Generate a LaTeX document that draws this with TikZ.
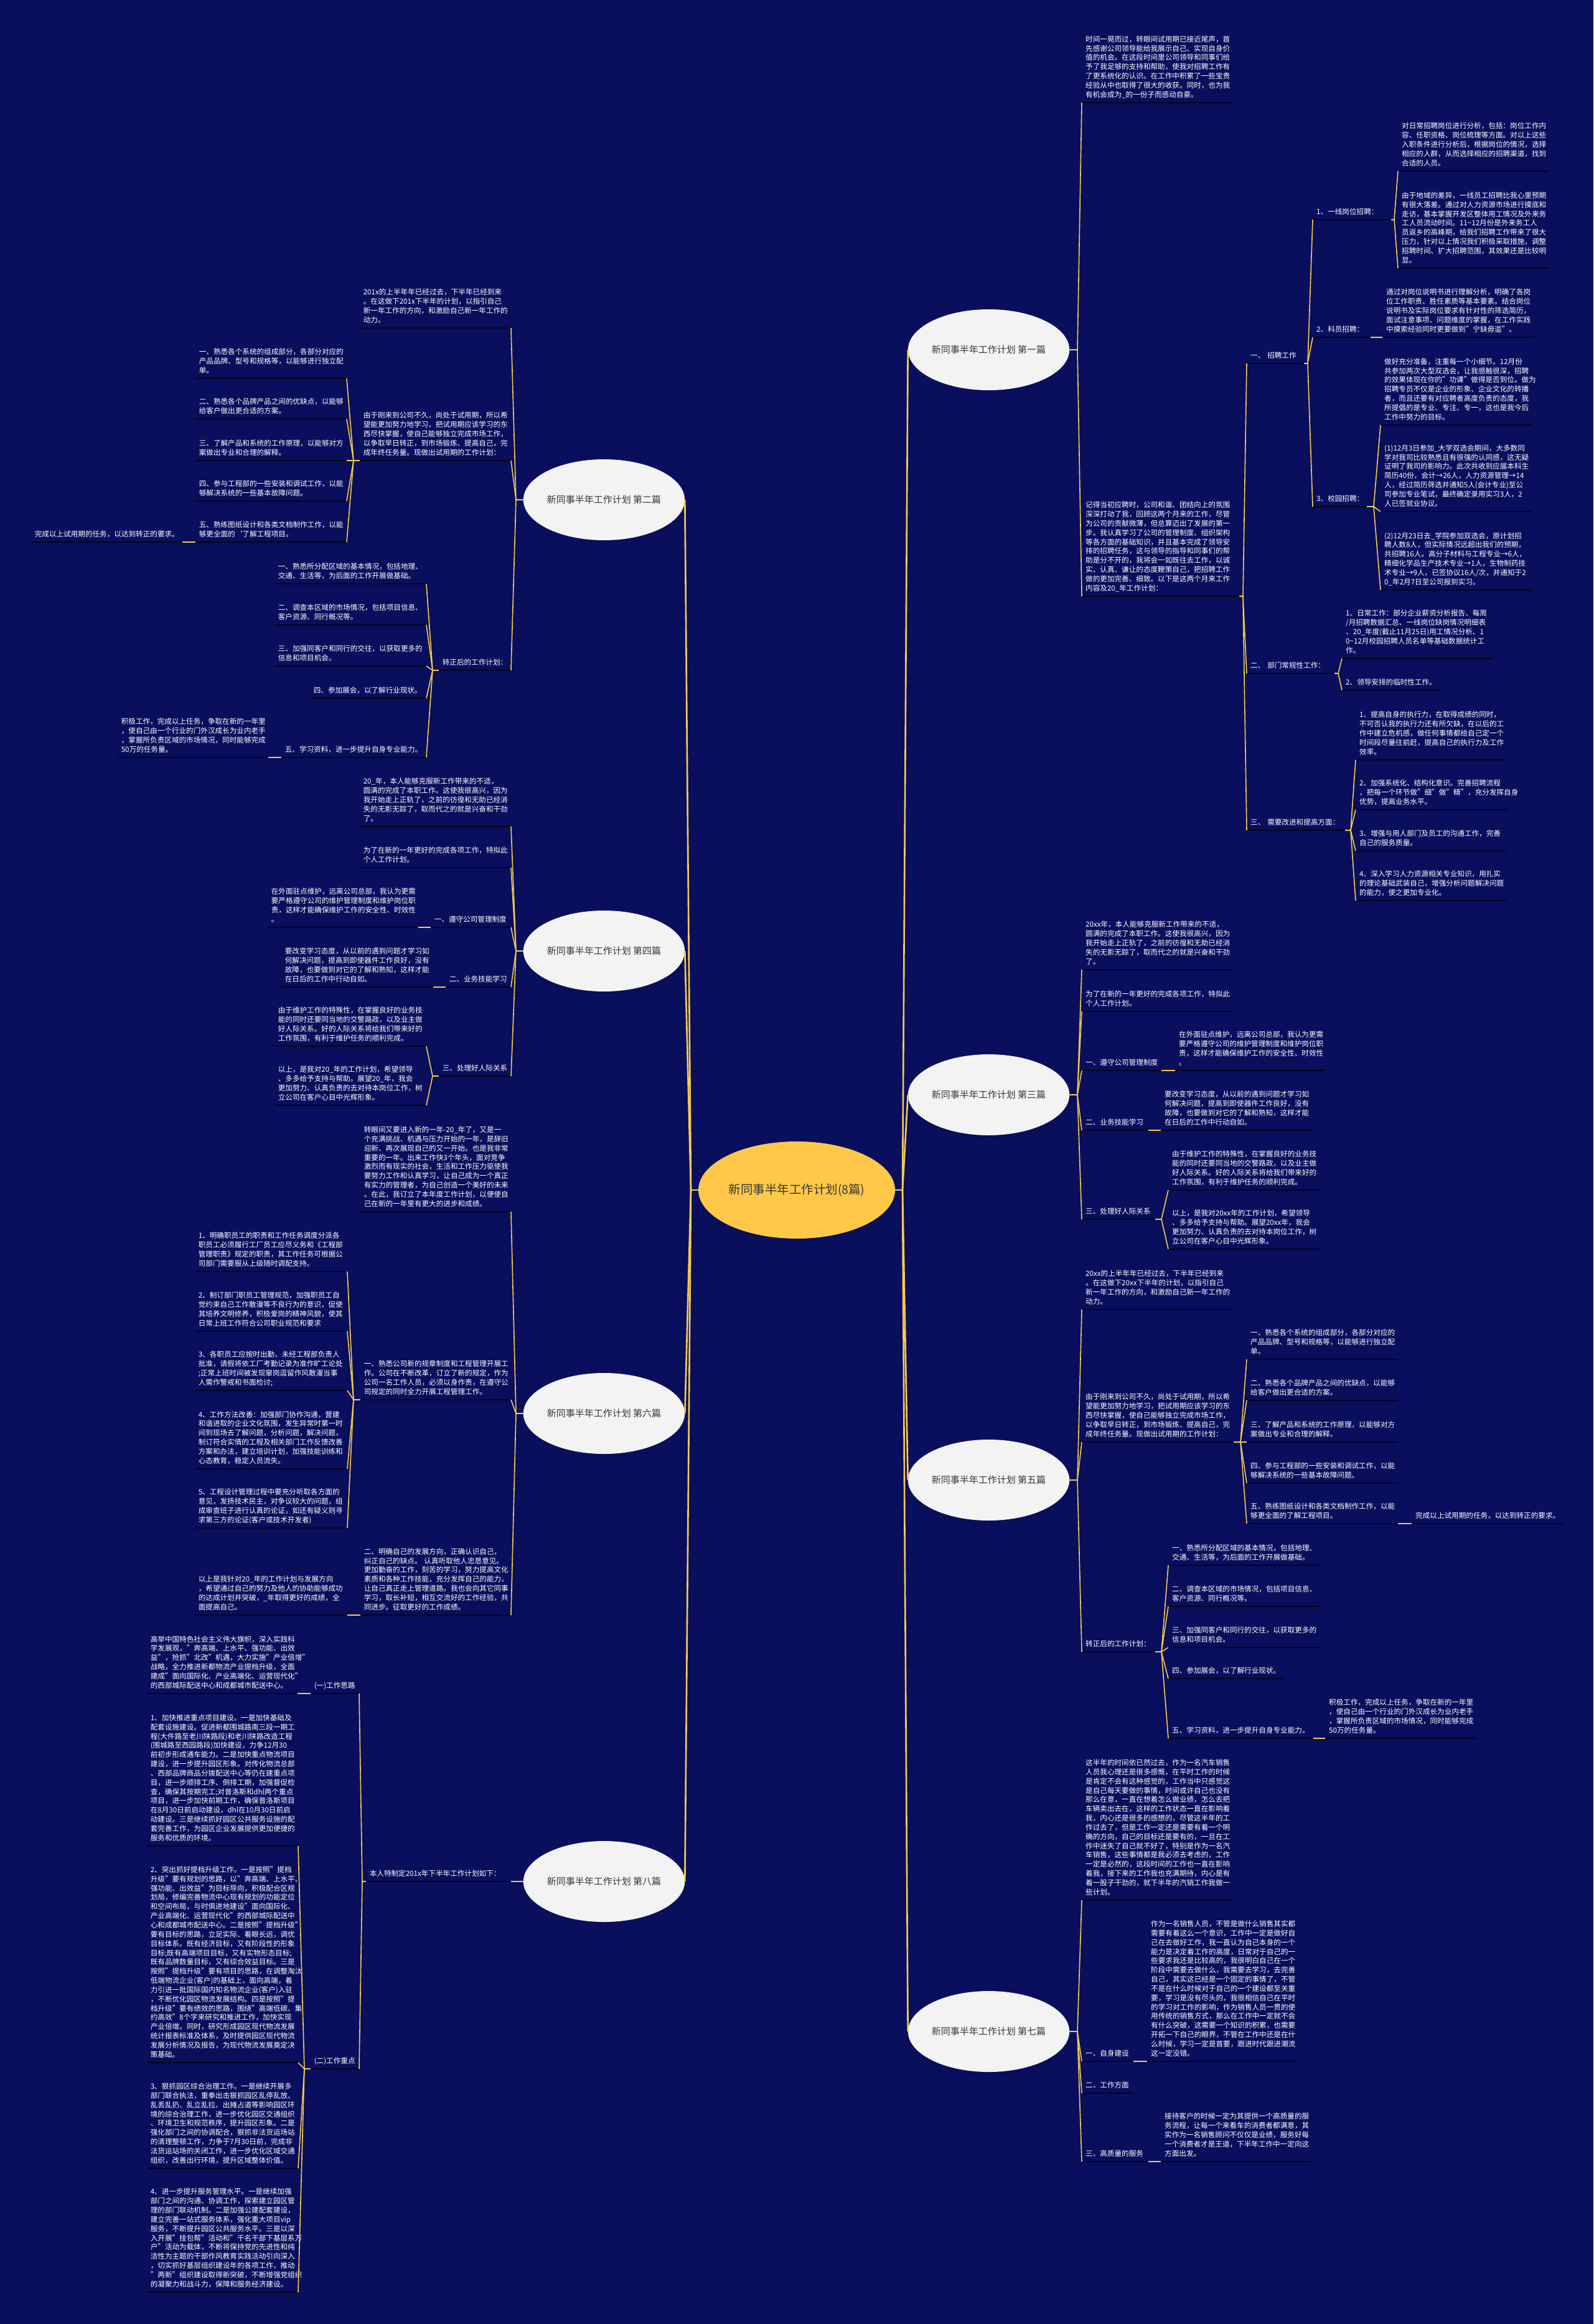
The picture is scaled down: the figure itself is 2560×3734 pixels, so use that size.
\documentclass[tikz,border=0pt]{standalone}
\usepackage{fontspec}
\setmainfont{Noto Sans CJK SC}
\usetikzlibrary{shapes.geometric}
\definecolor{bg}{RGB}{9,15,92}
\definecolor{linec}{RGB}{247,203,80}
\definecolor{ulc}{RGB}{4,5,28}
\definecolor{centerc}{RGB}{255,200,72}
\definecolor{brc}{RGB}{243,243,243}
\definecolor{brt}{RGB}{55,55,55}
\newcommand\fs{\fontsize{11.6}{14.85}\selectfont}
\tikzset{
  tb/.style={font=\fs, text=white, align=left, inner xsep=6pt, inner ysep=4pt},
  ul/.style={draw=ulc, line width=2.6pt},
  cn/.style={draw=linec, line width=1.6pt},
  mc/.style={draw=linec, line width=2.6pt},
  br/.style={ellipse, fill=brc, text=brt, inner sep=0pt, minimum width=259pt, minimum height=130pt, font=\fontsize{15}{18}\selectfont},
}
\newcommand\mmR[5]{\pgfmathsetmacro\tw{#3-#2-12}\node[tb,text width=\tw pt,anchor=south west] (#1) at (#2,#4) {#5\strut};\draw[ul] (#1.south west) -- (#1.south east);}
\newcommand\mmL[5]{\pgfmathsetmacro\tw{#3-#2-12}\node[tb,text width=\tw pt,anchor=south east] (#1) at (#3,#4) {#5\strut};\draw[ul] (#1.south west) -- (#1.south east);}
\newcommand\toR[2]{\draw[cn] (#1) -- (#2.south west);}
\newcommand\toL[2]{\draw[cn] (#1) -- (#2.south east);}
\begin{document}
\begin{tikzpicture}[x=1pt,y=-1pt]
\fill[bg] (0,0) rectangle (2560,3734);
\useasboundingbox (0,0) rectangle (2560,3734);

% ---------- central and branch ellipses
\node[ellipse, fill=centerc, text=brt, inner sep=0pt, minimum width=316pt, minimum height=156pt, font=\fontsize{19.5}{22}\selectfont] (C) at (1280,1912) {新同事半年工作计划(8篇)};
\node[br] (E1) at (1588.5,562) {新同事半年工作计划 第一篇};
\node[br] (E3) at (1588.5,1759) {新同事半年工作计划 第三篇};
\node[br] (E5) at (1588.5,2378) {新同事半年工作计划 第五篇};
\node[br] (E7) at (1588.5,3264) {新同事半年工作计划 第七篇};
\node[br] (E2) at (970.5,803) {新同事半年工作计划 第二篇};
\node[br] (E4) at (970.5,1528) {新同事半年工作计划 第四篇};
\node[br] (E6) at (970.5,2271) {新同事半年工作计划 第六篇};
\node[br] (E8) at (970.5,3023) {新同事半年工作计划 第八篇};
\coordinate (JR) at (1450,1912);
\coordinate (JL) at (1110,1912);
\draw[mc] (C.east) -- (JR);
\draw[mc] (C.west) -- (JL);
\foreach \e in {E1,E3,E5,E7} \draw[mc] (JR) -- (\e.west);
\foreach \e in {E2,E4,E6,E8} \draw[mc] (JL) -- (\e.east);

% ================= 第一篇
\mmR{a1}{1738}{1982}{165}{时间一晃而过，转眼间试用期已接近尾声，首\\先感谢公司领导能给我展示自己、实现自身价\\值的机会。在这段时间里公司领导和同事们给\\予了我足够的支持和帮助，使我对招聘工作有\\了更系统化的认识。在工作中积累了一些宝贵\\经验从中也取得了很大的收获。同时，也为我\\有机会成为\_的一份子而感动自豪。}
\mmR{a2}{1738}{1991}{958}{记得当初应聘时，公司和谐、团结向上的氛围\\深深打动了我，回顾这两个月来的工作，尽管\\为公司的贡献微薄，但总算迈出了发展的第一\\步。我认真学习了公司的管理制度、组织架构\\等各方面的基础知识，并且基本完成了领导安\\排的招聘任务，这与领导的指导和同事们的帮\\助是分不开的，我将会一如既往去工作，以诚\\实、认真、谦让的态度鞭策自己，把招聘工作\\做的更加完善、细致。以下是这两个月来工作\\内容及20\_年工作计划：}
\mmR{a3}{2003}{2095}{584}{一、~招聘工作}
\mmR{a31}{2109}{2235}{353}{1、一线岗位招聘：}
\mmR{a311}{2246}{2488}{275}{对日常招聘岗位进行分析，包括：岗位工作内\\容、任职资格、岗位梳理等方面。对以上这些\\入职条件进行分析后，根据岗位的情况，选择\\相应的人群，从而选择相应的招聘渠道，找到\\合适的人员。}
\mmR{a312}{2246}{2488}{431}{由于地域的差异，一线员工招聘比我心里预期\\有很大落差。通过对人力资源市场进行摸底和\\走访，基本掌握开发区整体用工情况及外来务\\工人员流动时间。11\textasciitilde12月份是外来务工人\\员返乡的高峰期，给我们招聘工作带来了很大\\压力，针对以上情况我们积极采取措施，调整\\招聘时间、扩大招聘范围，其效果还是比较明\\显。}
\mmR{a32}{2109}{2202}{542}{2、科员招聘：}
\mmR{a321}{2221}{2465}{542}{通过对岗位说明书进行理解分析，明确了各岗\\位工作职责、胜任素质等基本要素。结合岗位\\说明书及实际岗位要求有针对性的筛选简历，\\面试注意事项、问题维度的掌握，在工作实践\\中摸索经验同时更要做到"宁缺毋滥"。}
\mmR{a33}{2109}{2196}{814}{3、校园招聘：}
\mmR{a331}{2218}{2461}{683}{做好充分准备，注重每一个小细节。12月份\\共参加两次大型双选会，让我感触很深，招聘\\的效果体现在你的"功课"做得是否到位。做为\\招聘专员不仅是企业的形象、企业文化的转播\\者，而且还要有对应聘者高度负责的态度，我\\所提倡的是专业、专注、专一，这也是我今后\\工作中努力的目标。}
\mmR{a332}{2218}{2461}{822}{(1)12月3日参加\_大学双选会期间，大多数同\\学对我司比较熟悉且有很强的认同感，这无疑\\证明了我司的影响力。此次共收到应届本科生\\简历40份，会计→26人，人力资源管理→14\\人，经过简历筛选并通知5人(会计专业)至公\\司参加专业笔试，最终确定录用实习3人，2\\人已签就业协议。}
\mmR{a333}{2218}{2461}{948}{(2)12月23日去\_学院参加双选会，原计划招\\聘人数8人，但实际情况远超出我们的预期，\\共招聘16人。高分子材料与工程专业→6人，\\精细化学品生产技术专业→1人，生物制药技\\术专业→9人，已签协议16人/次，并通知于2\\0\_年2月7日至公司报到实习。}
\mmR{a4}{2003}{2144}{1082}{二、~部门常规性工作：}
\mmR{a41}{2156}{2398}{1058}{1、日常工作：部分企业薪资分析报告、每周\\/月招聘数据汇总、一线岗位缺岗情况明细表\\、20\_年度(截止11月25日)用工情况分析、1\\0\textasciitilde12月校园招聘人员名单等基础数据统计工\\作。}
\mmR{a42}{2156}{2315}{1109}{2、领导安排的临时性工作。}
\mmR{a5}{2003}{2161}{1334}{三、~需要改进和提高方面：}
\mmR{a51}{2178}{2421}{1221}{1、提高自身的执行力，在取得成绩的同时，\\不可否认我的执行力还有所欠缺，在以后的工\\作中建立危机感，做任何事情都给自己定一个\\时间段尽量往前赶，提高自己的执行力及工作\\效率。}
\mmR{a52}{2178}{2421}{1301}{2、加强系统化、结构化意识。完善招聘流程\\，把每一个环节做"细"做"精"，充分发挥自身\\优势，提高业务水平。}
\mmR{a53}{2178}{2421}{1367}{3、增强与用人部门及员工的沟通工作，完善\\自己的服务质量。}
\mmR{a54}{2178}{2421}{1447}{4、深入学习人力资源相关专业知识，用扎实\\的理论基础武装自己，增强分析问题解决问题\\的能力，使之更加专业化。}
\coordinate (J1) at (1731,562);
\draw[cn] (E1.east) -- (J1); \toR{J1}{a1} \toR{J1}{a2}
\coordinate (Ja2) at (1997,958);
\draw[cn] (a2.south east) -- (Ja2); \toR{Ja2}{a3} \toR{Ja2}{a4} \toR{Ja2}{a5}
\coordinate (Ja3) at (2101,584);
\draw[cn] (a3.south east) -- (Ja3); \toR{Ja3}{a31} \toR{Ja3}{a32} \toR{Ja3}{a33}
\coordinate (Ja31) at (2240,353);
\draw[cn] (a31.south east) -- (Ja31); \toR{Ja31}{a311} \toR{Ja31}{a312}
\draw[cn] (a32.south east) -- (a321.south west);
\coordinate (Ja33) at (2207,814);
\draw[cn] (a33.south east) -- (Ja33); \toR{Ja33}{a331} \toR{Ja33}{a332} \toR{Ja33}{a333}
\coordinate (Ja4) at (2150,1082);
\draw[cn] (a4.south east) -- (Ja4); \toR{Ja4}{a41} \toR{Ja4}{a42}
\coordinate (Ja5) at (2170,1334);
\draw[cn] (a5.south east) -- (Ja5); \toR{Ja5}{a51} \toR{Ja5}{a52} \toR{Ja5}{a53} \toR{Ja5}{a54}

% ================= 第三篇
\mmR{b1}{1738}{1982}{1558}{20xx年，本人能够克服新工作带来的不适，\\圆满的完成了本职工作。这使我很高兴，因为\\我开始走上正轨了，之前的彷徨和无助已经消\\失的无影无踪了，取而代之的就是兴奋和干劲\\了。}
\mmR{b2}{1738}{1982}{1625}{为了在新的一年更好的完成各项工作，特拟此\\个人工作计划。}
\mmR{b3}{1738}{1866}{1720}{一、遵守公司管理制度}
\mmR{b31}{1888}{2130}{1720}{在外面驻点维护，远离公司总部，我认为更需\\要严格遵守公司的维护管理制度和维护岗位职\\责，这样才能确保维护工作的安全性、时效性\\。}
\mmR{b4}{1738}{1845}{1816}{二、业务技能学习}
\mmR{b41}{1865}{2107}{1816}{要改变学习态度，从以前的遇到问题才学习如\\何解决问题，提高到即使器件工作良好，没有\\故障，也要做到对它的了解和熟知，这样才能\\在日后的工作中行动自如。}
\mmR{b5}{1738}{1856}{1959}{三、处理好人际关系}
\mmR{b51}{1877}{2120}{1912}{由于维护工作的特殊性，在掌握良好的业务技\\能的同时还要同当地的交警路政，以及业主做\\好人际关系。好的人际关系将给我们带来好的\\工作氛围，有利于维护任务的顺利完成。}
\mmR{b52}{1877}{2120}{2007}{以上，是我对20xx年的工作计划，希望领导\\、多多给予支持与帮助。展望20xx年，我会\\更加努力、认真负责的去对待本岗位工作，树\\立公司在客户心目中光辉形象。}
\coordinate (J3) at (1731,1759);
\draw[cn] (E3.east) -- (J3); \toR{J3}{b1} \toR{J3}{b2} \toR{J3}{b3} \toR{J3}{b4} \toR{J3}{b5}
\draw[cn] (b3.south east) -- (b31.south west);
\draw[cn] (b4.south east) -- (b41.south west);
\coordinate (Jb5) at (1866,1959);
\draw[cn] (b5.south east) -- (Jb5); \toR{Jb5}{b51} \toR{Jb5}{b52}

% ================= 第五篇
\mmR{c1}{1738}{1982}{2104}{20xx的上半年年已经过去，下半年已经到来\\。在这做下20xx下半年的计划，以指引自己\\新一年工作的方向，和激励自己新一年工作的\\动力。}
\mmR{c2}{1738}{1982}{2317}{由于刚来到公司不久，尚处于试用期，所以希\\望能更加努力地学习，把试用期应该学习的东\\西尽快掌握，使自己能够独立完成市场工作，\\以争取早日转正，到市场锻炼、提高自己，完\\成年终任务量。现做出试用期的工作计划：}
\mmR{c21}{2003}{2246}{2184}{一、熟悉各个系统的组成部分，各部分对应的\\产品品牌、型号和规格等，以能够进行独立配\\单。}
\mmR{c22}{2003}{2246}{2250}{二、熟悉各个品牌产品之间的优缺点，以能够\\给客户做出更合适的方案。}
\mmR{c23}{2003}{2246}{2317}{三、了解产品和系统的工作原理，以能够对方\\案做出专业和合理的解释。}
\mmR{c24}{2003}{2246}{2383}{四、参与工程部的一些安装和调试工作，以能\\够解决系统的一些基本故障问题。}
\mmR{c25}{2003}{2246}{2448}{五、熟练图纸设计和各类文档制作工作，以能\\够更全面的了解工程项目。}
\mmR{c251}{2268}{2511}{2448}{完成以上试用期的任务，以达到转正的要求。}
\mmR{c3}{1738}{1856}{2654}{转正后的工作计划：}
\mmR{c31}{1877}{2120}{2515}{一、熟悉所分配区域的基本情况，包括地理、\\交通、生活等，为后面的工作开展做基础。}
\mmR{c32}{1877}{2120}{2581}{二、调查本区域的市场情况，包括项目信息、\\客户资源、同行概况等。}
\mmR{c33}{1877}{2120}{2647}{三、加强同客户和同行的交往，以获取更多的\\信息和项目机会。}
\mmR{c34}{1877}{2063}{2697}{四、参加展会，以了解行业现状。}
\mmR{c35}{1877}{2110}{2793}{五、学习资料，进一步提升自身专业能力。}
\mmR{c351}{2129}{2372}{2793}{积极工作，完成以上任务，争取在新的一年里\\，使自己由一个行业的门外汉成长为业内老手\\，掌握所负责区域的市场情况，同时能够完成\\50万的任务量。}
\coordinate (J5) at (1731,2378);
\draw[cn] (E5.east) -- (J5); \toR{J5}{c1} \toR{J5}{c2} \toR{J5}{c3}
\coordinate (Jc2) at (1993,2317);
\draw[cn] (c2.south east) -- (Jc2); \toR{Jc2}{c21} \toR{Jc2}{c22} \toR{Jc2}{c23} \toR{Jc2}{c24} \toR{Jc2}{c25}
\draw[cn] (c25.south east) -- (c251.south west);
\coordinate (Jc3) at (1866,2654);
\draw[cn] (c3.south east) -- (Jc3); \toR{Jc3}{c31} \toR{Jc3}{c32} \toR{Jc3}{c33} \toR{Jc3}{c34} \toR{Jc3}{c35}
\draw[cn] (c35.south east) -- (c351.south west);

% ================= 第七篇
\mmR{d1}{1738}{1982}{3053}{这半年的时间依已然过去，作为一名汽车销售\\人员我心理还是很多感慨，在平时工作的时候\\是肯定不会有这种感觉的，工作当中只感觉这\\是自己每天要做的事情，时间或许自己也没有\\那么在意，一直在想着怎么做业绩，怎么去把\\车辆卖出去在，这样的工作状态一直在影响着\\我，内心还是很多的感想的，尽管这半年的工\\作过去了，但是工作一定还是需要有着一个明\\确的方向，自己的目标还是要有的，一旦在工\\作中迷失了自己就不好了，特别是作为一名汽\\车销售，这些事情都是我必须去考虑的，工作\\一定是必然的，这段时间的工作也一直在影响\\着我，接下来的工作我也充满期待，内心是有\\着一股子干劲的，就下半年的汽销工作我做一\\些计划。}
\mmR{d2}{1738}{1821}{3312}{一、自身建设}
\mmR{d21}{1843}{2084}{3312}{作为一名销售人员，不管是做什么销售其实都\\需要有着这么一个意识，工作中一定是做好自\\己在去做好工作，我一直认为自己本身的一个\\能力是决定着工作的高度，日常对于自己的一\\些要求我还是比较高的，我很明白自己在一个\\阶段中需要去做什么，我需要去学习，去完善\\自己，其实这已经是一个固定的事情了，不管\\不是在什么时候对于自己的一个建设都至关重\\要，学习是没有尽头的，我很相信自己在平时\\的学习对工作的影响，作为销售人员一贯的使\\用传统的销售方式，那么在工作中一定就不会\\有什么突破，这需要一个知识的积累，也需要\\开拓一下自己的眼界，不管在工作中还是在什\\么时候，学习一定是首要，跟进时代跟进潮流\\这一定没错。}
\mmR{d3}{1738}{1821}{3363}{二、工作方面}
\mmR{d4}{1738}{1845}{3473}{三、高质量的服务}
\mmR{d41}{1865}{2107}{3473}{接待客户的时候一定为其提供一个高质量的服\\务流程，让每一个来看车的消费者都满意，其\\实作为一名销售顾问不仅仅是业绩，服务好每\\一个消费者才是王道，下半年工作中一定向这\\方面出发。}
\coordinate (J7) at (1731,3264);
\draw[cn] (E7.east) -- (J7); \toR{J7}{d1} \toR{J7}{d2} \toR{J7}{d3} \toR{J7}{d4}
\draw[cn] (d2.south east) -- (d21.south west);
\draw[cn] (d4.south east) -- (d41.south west);

% ================= 第二篇
\mmL{e1}{578}{821}{527}{201x的上半年年已经过去，下半年已经到来\\。在这做下201x下半年的计划，以指引自己\\新一年工作的方向，和激励自己新一年工作的\\动力。}
\mmL{e2}{578}{821}{740}{由于刚来到公司不久，尚处于试用期，所以希\\望能更加努力地学习，把试用期应该学习的东\\西尽快掌握，使自己能够独立完成市场工作，\\以争取早日转正，到市场锻炼、提高自己，完\\成年终任务量。现做出试用期的工作计划：}
\mmL{e21}{314}{557}{608}{一、熟悉各个系统的组成部分，各部分对应的\\产品品牌、型号和规格等，以能够进行独立配\\单。}
\mmL{e22}{314}{557}{673}{二、熟悉各个品牌产品之间的优缺点，以能够\\给客户做出更合适的方案。}
\mmL{e23}{314}{557}{740}{三、了解产品和系统的工作原理，以能够对方\\案做出专业和合理的解释。}
\mmL{e24}{314}{557}{805}{四、参与工程部的一些安装和调试工作，以能\\够解决系统的一些基本故障问题。}
\mmL{e25}{314}{557}{871}{五、熟练图纸设计和各类文档制作工作，以能\\够更全面的`了解工程项目。}
\mmL{e251}{50}{293}{871}{完成以上试用期的任务，以达到转正的要求。}
\mmL{e3}{705}{821}{1077}{转正后的工作计划：}
\mmL{e31}{441}{685}{938}{一、熟悉所分配区域的基本情况，包括地理、\\交通、生活等，为后面的工作开展做基础。}
\mmL{e32}{441}{685}{1004}{二、调查本区域的市场情况，包括项目信息、\\客户资源、同行概况等。}
\mmL{e33}{441}{685}{1070}{三、加强同客户和同行的交往，以获取更多的\\信息和项目机会。}
\mmL{e34}{498}{685}{1122}{四、参加展会，以了解行业现状。}
\mmL{e35}{452}{685}{1217}{五、学习资料，进一步提升自身专业能力。}
\mmL{e351}{189}{431}{1217}{积极工作，完成以上任务，争取在新的一年里\\，使自己由一个行业的门外汉成长为业内老手\\，掌握所负责区域的市场情况，同时能够完成\\50万的任务量。}
\coordinate (J2) at (829,803);
\draw[cn] (E2.west) -- (J2); \toL{J2}{e1} \toL{J2}{e2} \toL{J2}{e3}
\coordinate (Je2) at (568,740);
\draw[cn] (e2.south west) -- (Je2); \toL{Je2}{e21} \toL{Je2}{e22} \toL{Je2}{e23} \toL{Je2}{e24} \toL{Je2}{e25}
\draw[cn] (e25.south west) -- (e251.south east);
\coordinate (Je3) at (695,1077);
\draw[cn] (e3.south west) -- (Je3); \toL{Je3}{e31} \toL{Je3}{e32} \toL{Je3}{e33} \toL{Je3}{e34} \toL{Je3}{e35}
\draw[cn] (e35.south west) -- (e351.south east);

% ================= 第四篇
\mmL{f1}{578}{821}{1328}{20\_年，本人能够克服新工作带来的不适，\\圆满的完成了本职工作。这使我很高兴，因为\\我开始走上正轨了，之前的彷徨和无助已经消\\失的无影无踪了，取而代之的就是兴奋和干劲\\了。}
\mmL{f2}{578}{821}{1394}{为了在新的一年更好的完成各项工作，特拟此\\个人工作计划。}
\mmL{f3}{692}{821}{1490}{一、遵守公司管理制度}
\mmL{f31}{430}{672}{1490}{在外面驻点维护，远离公司总部，我认为更需\\要严格遵守公司的维护管理制度和维护岗位职\\责，这样才能确保维护工作的安全性、时效性\\。}
\mmL{f4}{716}{821}{1586}{二、业务技能学习}
\mmL{f41}{452}{696}{1586}{要改变学习态度，从以前的遇到问题才学习如\\何解决问题，提高到即使器件工作良好，没有\\故障，也要做到对它的了解和熟知，这样才能\\在日后的工作中行动自如。}
\mmL{f5}{705}{821}{1729}{三、处理好人际关系}
\mmL{f51}{441}{685}{1681}{由于维护工作的特殊性，在掌握良好的业务技\\能的同时还要同当地的交警路政，以及业主做\\好人际关系。好的人际关系将给我们带来好的\\工作氛围，有利于维护任务的顺利完成。}
\mmL{f52}{441}{685}{1776}{以上，是我对20\_年的工作计划，希望领导\\、多多给予支持与帮助。展望20\_年，我会\\更加努力、认真负责的去对待本岗位工作，树\\立公司在客户心目中光辉形象。}
\coordinate (J4) at (829,1528);
\draw[cn] (E4.west) -- (J4); \toL{J4}{f1} \toL{J4}{f2} \toL{J4}{f3} \toL{J4}{f4} \toL{J4}{f5}
\draw[cn] (f3.south west) -- (f31.south east);
\draw[cn] (f4.south west) -- (f41.south east);
\coordinate (Jf5) at (695,1729);
\draw[cn] (f5.south west) -- (Jf5); \toL{Jf5}{f51} \toL{Jf5}{f52}

% ================= 第六篇
\mmL{g1}{579}{821}{1947}{转眼间又要进入新的一年-20\_年了，又是一\\个充满挑战、机遇与压力开始的一年，是辞旧\\迎新、再次展现自己的又一开始。也是我非常\\重要的一年。出来工作快3个年头，面对竞争\\激烈而有现实的社会，生活和工作压力驱使我\\要努力工作和认真学习，让自己成为一个真正\\有实力的管理者，为自己创造一个美好的未来\\。在此，我订立了本年度工作计划，以便使自\\己在新的一年里有更大的进步和成绩。}
\mmL{g2}{579}{821}{2249}{一、熟悉公司新的规章制度和工程管理开展工\\作。公司在不断改革，订立了新的规定，作为\\公司一名工作人员，必须以身作责，在遵守公\\司规定的同时全力开展工程管理工作。}
\mmL{g21}{313}{558}{2043}{1、明确职员工的职责和工作任务调度分派各\\职员工必须履行工厂员工应尽义务和《工程部\\管理职责》规定的职责，其工作任务可根据公\\司部门需要服从上级随时调配支持。}
\mmL{g22}{313}{558}{2139}{2、制订部门职员工管理规范，加强职员工自\\觉约束自己工作散漫等不良行为的意识，促使\\其培养文明修养，积极爱岗的精神风貌，使其\\日常上班工作符合公司职业规范和要求}
\mmL{g23}{313}{558}{2234}{3、各职员工应按时出勤，未经工程部负责人\\批准，请假将依工厂考勤记录为准作旷工论处\\;正常上班时间被发现窜岗逗留作风散漫当事\\人需作警戒和书面检讨;}
\mmL{g24}{313}{558}{2360}{4、工作方法改善：加强部门协作沟通，营建\\和谐进取的企业文化氛围，发生异常时第一时\\间到现场去了解问题，分析问题，解决问题，\\制订符合实情的工程及相关部门工作反馈改善\\方案和办法，建立培训计划，加强技能训练和\\心态教育，稳定人员流失。}
\mmL{g25}{313}{558}{2455}{5、工程设计管理过程中要充分听取各方面的\\意见，发扬技术民主，对争议较大的问题，组\\成审查班子进行认真的论证，如还有疑义则寻\\求第三方的论证(客户或技术开发者)}
\mmL{g3}{579}{821}{2595}{二、明确自己的发展方向，正确认识自己，\\纠正自己的缺点。~认真听取他人忠恳意见。\\更加勤奋的工作，刻苦的学习，努力提高文化\\素质和各种工作技能，充分发挥自己的能力，\\让自己真正走上管理道路。我也会向其它同事\\学习，取长补短，相互交流好的工作经验，共\\同进步。征取更好的工作成绩。}
\mmL{g31}{313}{558}{2595}{以上是我针对20\_年的工作计划与发展方向\\，希望通过自己的努力及他人的协助能够成功\\的达成计划并突破，\_年取得更好的成绩，全\\面提高自己。}
\coordinate (J6) at (829,2271);
\draw[cn] (E6.west) -- (J6); \toL{J6}{g1} \toL{J6}{g2} \toL{J6}{g3}
\coordinate (Jg2) at (568,2249);
\draw[cn] (g2.south west) -- (Jg2); \toL{Jg2}{g21} \toL{Jg2}{g22} \toL{Jg2}{g23} \toL{Jg2}{g24} \toL{Jg2}{g25}
\draw[cn] (g3.south west) -- (g31.south east);

% ================= 第八篇
\mmL{h1}{588}{821}{3023}{本人特制定201x年下半年工作计划如下：}
\mmL{h2}{499}{577}{2721}{(一)工作思路}
\mmL{h21}{236}{478}{2721}{高举中国特色社会主义伟大旗帜，深入实践科\\学发展观，"奔高端、上水平、强功能、出效\\益"，抢抓"北改"机遇，大力实施"产业倍增"\\战略，全力推进新都物流产业提档升级，全面\\建成"面向国际化、产业高端化、运营现代化"\\的西部城际配送中心和成都城市配送中心。}
\mmL{h3}{499}{577}{3324}{(二)工作重点}
\mmL{h31}{236}{479}{2966}{1、加快推进重点项目建设。一是加快基础及\\配套设施建设。促进新都围城路南三段一期工\\程(大件路至老川陕路段)和老川陕路改造工程\\(围城路至西园路段)加快建设，力争12月30\\前初步形成通车能力。二是加快重点物流项目\\建设，进一步提升园区形象。对传化物流总部\\、西部品牌商品分拨配送中心等仍在建重点项\\目，进一步顺排工序、倒排工期，加强督促检\\查，确保其按期完工;对普洛斯和dhl两个重点\\项目，进一步加快前期工作，确保普洛斯项目\\在8月30日前启动建设，dhl在10月30日前启\\动建设。三是继续抓好园区公共服务设施的配\\套完善工作，为园区企业发展提供更加便捷的\\服务和优质的环境。}
\mmL{h32}{236}{479}{3314}{2、突出抓好提档升级工作。一是按照"提档\\升级"要有规划的思路，以"奔高端、上水平、\\强功能、出效益"为目标导向，积极配合区规\\划局，修编完善物流中心现有规划的功能定位\\和空间布局，与时俱进地建设"面向国际化、\\产业高端化、运营现代化"的西部城际配送中\\心和成都城市配送中心。二是按照"提档升级"\\要有目标的思路，立足实际、着眼长远，调优\\目标体系。既有经济目标，又有阶段性的形象\\目标;既有高端项目目标，又有实物形态目标;\\既有品牌数量目标，又有综合效益目标。三是\\按照"提档升级"要有项目的思路，在调整淘汰\\低端物流企业(客户)的基础上，面向高端，着\\力引进一批国际国内知名物流企业(客户)入驻\\，不断优化园区物流发展结构。四是按照"提\\档升级"要有绩效的思路，围绕"高端低碳、集\\约高效"8个字来研究和推进工作，加快实现\\产业倍增。同时，研究形成园区现代物流发展\\统计报表标准及体系，及时提供园区现代物流\\发展分析情况及报告，为现代物流发展奠定决\\策基础。}
\mmL{h33}{236}{479}{3484}{3、狠抓园区综合治理工作。一是继续开展多\\部门联合执法，重拳出击狠抓园区乱停乱放、\\乱丢乱扔、乱立乱拉、出摊占道等影响园区环\\境的综合治理工作，进一步优化园区交通组织\\、环境卫生和规范秩序，提升园区形象。二是\\强化部门之间的协调配合，狠抓非法货运场站\\的清理整顿工作，力争于7月30日前，完成非\\法货运站场的关闭工作，进一步优化区域交通\\组织，改善出行环境，提升区域整体价值。}
\mmL{h34}{236}{479}{3683}{4、进一步提升服务管理水平。一是继续加强\\部门之间的沟通、协调工作，探索建立园区管\\理的部门联动机制。二是加强公建配套建设，\\建立完善一站式服务体系，强化重大项目vip\\服务，不断提升园区公共服务水平。三是以深\\入开展"挂包帮"活动和"千名干部下基层系万\\户"活动为载体，不断将保持党的先进性和纯\\洁性为主题的干部作风教育实践活动引向深入\\，切实抓好基层组织建设年的各项工作，推动\\"两新"组织建设取得新突破，不断增强党组织\\的凝聚力和战斗力，保障和服务经济建设。}
\draw[cn] (E8.west) -- (h1.south east);
\coordinate (Jh1) at (582,3023);
\draw[cn] (h1.south west) -- (Jh1); \toL{Jh1}{h2} \toL{Jh1}{h3}
\draw[cn] (h2.south west) -- (h21.south east);
\coordinate (Jh3) at (489,3324);
\draw[cn] (h3.south west) -- (Jh3); \toL{Jh3}{h31} \toL{Jh3}{h32} \toL{Jh3}{h33} \toL{Jh3}{h34}
\end{tikzpicture}
\end{document}
